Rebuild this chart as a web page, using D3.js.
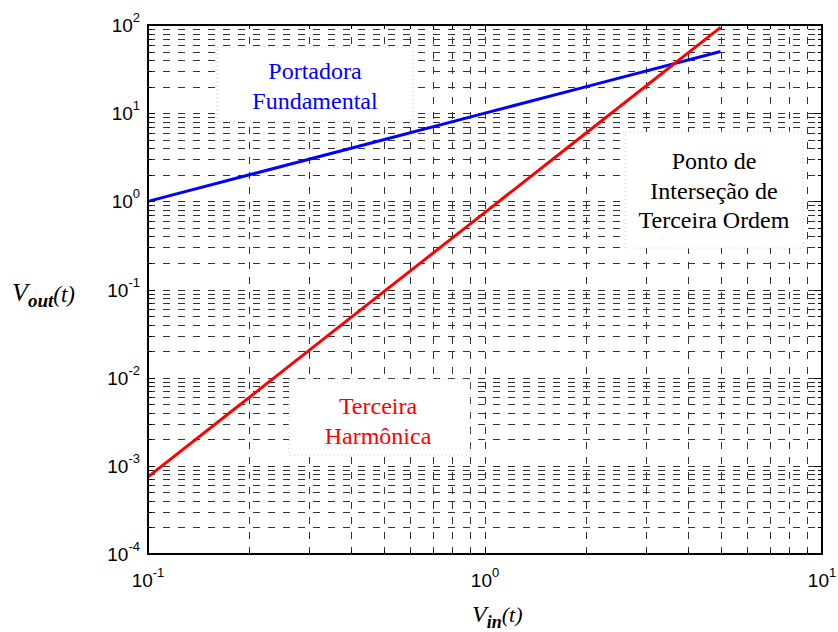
<!DOCTYPE html>
<html>
<head>
<meta charset="utf-8">
<script src="https://cdn.jsdelivr.net/npm/d3@7"></script>
<style>
  body { margin: 0; background: #fff; }
  .tick-label { font-family: "Liberation Sans", Arial, sans-serif; font-size: 19px; fill: #000; }
  .note { font-family: "Liberation Serif", "Times New Roman", serif; font-size: 24px; text-anchor: middle; }
  .axis-title { font-family: "Liberation Serif", "Times New Roman", serif; font-style: italic; fill: #000; }
</style>
</head>
<body>
<div id="chart-area"></div>
<script>
// data
const vin = [0.1, 0.2, 0.5, 1, 2, 5]
const fundamental = [1, 2, 5, 10, 20, 50]
const thirdHarmonic = [0.00075, 0.006, 0.094, 0.75, 6, 94]
const xDecades = [-1, 0, 1]
const yDecades = [-4, -3, -2, -1, 0, 1, 2]

const W = 838, H = 632
const PLOT = { LEFT: 148, RIGHT: 822, TOP: 25, BOTTOM: 554 }

const svg = d3.select("#chart-area").append("svg")
  .attr("width", W)
  .attr("height", H)

const x = d3.scaleLog().domain([0.1, 10]).range([PLOT.LEFT, PLOT.RIGHT])
const y = d3.scaleLog().domain([1e-4, 1e2]).range([PLOT.BOTTOM, PLOT.TOP])

// dashed grid on every major + minor tick
const grid = svg.append("g").attr("class", "grid")
  .attr("stroke", "#333")
  .attr("stroke-width", 1)
  .attr("stroke-dasharray", "7,8")

grid.selectAll(".vgrid").data(x.ticks())
  .enter().append("line")
  .attr("x1", d => Math.round(x(d)) + 0.5)
  .attr("x2", d => Math.round(x(d)) + 0.5)
  .attr("y1", PLOT.BOTTOM)
  .attr("y2", PLOT.TOP)

grid.selectAll(".hgrid").data(y.ticks())
  .enter().append("line")
  .attr("y1", d => Math.round(y(d)) + 0.5)
  .attr("y2", d => Math.round(y(d)) + 0.5)
  .attr("x1", PLOT.LEFT)
  .attr("x2", PLOT.RIGHT)

// tick marks inside the frame, all four sides
const isMajor = d => Math.abs(Math.log10(d) - Math.round(Math.log10(d))) < 1e-9
const tickLen = d => isMajor(d) ? 7 : 4
const ticks = svg.append("g").attr("stroke", "#000").attr("stroke-width", 1)
x.ticks().forEach(d => {
  const xx = Math.round(x(d)) + 0.5
  ticks.append("line").attr("x1", xx).attr("x2", xx).attr("y1", PLOT.BOTTOM).attr("y2", PLOT.BOTTOM - tickLen(d))
  ticks.append("line").attr("x1", xx).attr("x2", xx).attr("y1", PLOT.TOP).attr("y2", PLOT.TOP + tickLen(d))
})
y.ticks().forEach(d => {
  const yy = Math.round(y(d)) + 0.5
  ticks.append("line").attr("y1", yy).attr("y2", yy).attr("x1", PLOT.LEFT).attr("x2", PLOT.LEFT + tickLen(d))
  ticks.append("line").attr("y1", yy).attr("y2", yy).attr("x1", PLOT.RIGHT).attr("x2", PLOT.RIGHT - tickLen(d))
})

// annotation boxes (white, faint dotted border)
const notes = [
  { box: [217, 47, 196, 74], color: "#0000ff", lines: ["Portadora", "Fundamental"], cx: 315, y0: 79, lh: 30 },
  { box: [625, 132, 178, 116], color: "#000", lines: ["Ponto de", "Interseção de", "Terceira Ordem"], cx: 714, y0: 169, lh: 29.5 },
  { box: [289, 379, 181, 76], color: "#ff0000", lines: ["Terceira", "Harmônica"], cx: 378, y0: 414, lh: 30 }
]
notes.forEach(n => {
  svg.append("rect")
    .attr("x", n.box[0]).attr("y", n.box[1])
    .attr("width", n.box[2]).attr("height", n.box[3])
    .attr("fill", "#fff")
    .attr("stroke", "#c8c8c8")
    .attr("stroke-dasharray", "1,3")
  const t = svg.append("text").attr("class", "note").attr("fill", n.color)
  n.lines.forEach((l, i) => {
    t.append("tspan").attr("x", n.cx).attr("y", n.y0 + i * n.lh).text(l)
  })
})

// curves
const line = d3.line()
  .x(d => x(d[0]))
  .y(d => y(d[1]))

svg.append("path")
  .attr("fill", "none")
  .attr("stroke", "#0000ff")
  .attr("stroke-width", 3)
  .attr("d", line(vin.map((v, i) => [v, fundamental[i]])))

svg.append("path")
  .attr("fill", "none")
  .attr("stroke", "#ff0000")
  .attr("stroke-width", 3)
  .attr("d", line(vin.map((v, i) => [v, thirdHarmonic[i]])))

// frame
svg.append("rect")
  .attr("x", PLOT.LEFT).attr("y", PLOT.TOP)
  .attr("width", PLOT.RIGHT - PLOT.LEFT)
  .attr("height", PLOT.BOTTOM - PLOT.TOP)
  .attr("fill", "none")
  .attr("stroke", "#000")
  .attr("stroke-width", 2)

// tick labels 10^n
xDecades.forEach(e => {
  const t = svg.append("text").attr("class", "tick-label")
    .attr("x", x(Math.pow(10, e)))
    .attr("y", 587)
    .attr("text-anchor", "middle")
  t.append("tspan").text("10")
  t.append("tspan").attr("dy", -10).attr("font-size", 13).text(e)
})
yDecades.forEach(e => {
  const t = svg.append("text").attr("class", "tick-label")
    .attr("x", 140)
    .attr("y", y(Math.pow(10, e)) + 7)
    .attr("text-anchor", "end")
  t.append("tspan").text("10")
  t.append("tspan").attr("dy", -10).attr("font-size", 13).text(e)
})

// axis titles
const yTitle = svg.append("text").attr("class", "axis-title").attr("x", 12).attr("y", 301)
yTitle.append("tspan").attr("font-size", 26).text("V")
yTitle.append("tspan").attr("font-size", 19).attr("font-weight", "bold").attr("dy", 6).text("out")
yTitle.append("tspan").attr("font-size", 23).attr("dy", -5).text("(t)")

const xTitle = svg.append("text").attr("class", "axis-title").attr("x", 472).attr("y", 622)
xTitle.append("tspan").attr("font-size", 24).text("V")
xTitle.append("tspan").attr("font-size", 18).attr("font-weight", "bold").attr("dy", 6).text("in")
xTitle.append("tspan").attr("font-size", 22).attr("dy", -6).text("(t)")
</script>
</body>
</html>
